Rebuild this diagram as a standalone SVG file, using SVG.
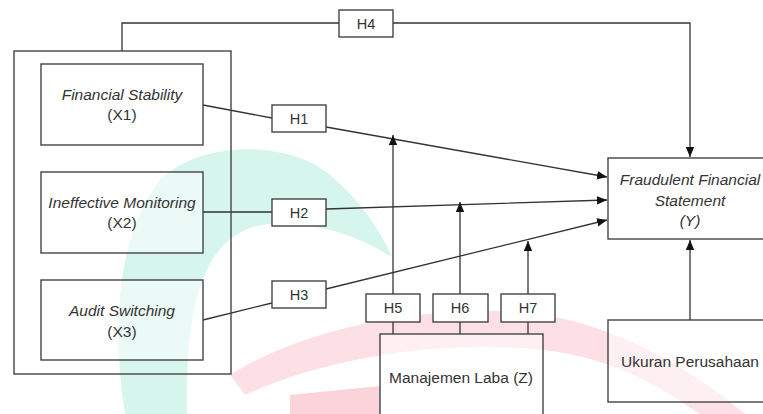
<svg xmlns="http://www.w3.org/2000/svg" width="763" height="414" viewBox="0 0 763 414">
<style>
.box{fill:#fff;fill-opacity:0.5;stroke:#444;stroke-width:1.4}
.lbl{fill:#fff;stroke:#444;stroke-width:1.4}
.con{fill:none;stroke:#333;stroke-width:1.3}
.t{font-family:"Liberation Sans",Arial,sans-serif;font-size:15.5px;fill:#333;text-anchor:middle}
.i{font-style:italic}
.h{font-size:14.5px}
</style>
<defs>
<marker id="ah" markerUnits="userSpaceOnUse" markerWidth="10" markerHeight="10" viewBox="0 0 10 10" refX="10" refY="5" orient="auto">
<path d="M0,0.8 L10,5 L0,9.2 Z" fill="#111"/>
</marker>
</defs>
<rect width="763" height="414" fill="#fff"/>

<g id="background">
<path d="M125,414 C110,320 120,230 160,180 C200,140 290,140 330,175 C360,200 380,230 392,257 C350,230 290,215 250,228 C205,245 185,300 187,414 Z" fill="#d6f5ec"/>
<path d="M230,375 C300,330 420,305 520,312 C600,318 680,360 745,414 L700,414 C640,372 590,352 520,348 C430,342 320,360 245,395 Z" fill="#fce0e5"/>
<path d="M290,395 L380,386 L380,414 L290,414 Z" fill="#fbd3da"/>
</g>

<g id="connectors">
<path class="con" d="M122,51 V23 H690 V157" marker-end="url(#ah)"/>
<path class="con" d="M203,105 L272,118 M326,127 L607,177" marker-end="url(#ah)"/>
<path class="con" d="M203,212 L272,212 M326,209 L607,200" marker-end="url(#ah)"/>
<path class="con" d="M203,320 L272,303 M326,289 L607,220" marker-end="url(#ah)"/>
<path class="con" d="M393,334 V135" marker-end="url(#ah)"/>
<path class="con" d="M460,334 V202" marker-end="url(#ah)"/>
<path class="con" d="M528,334 V241" marker-end="url(#ah)"/>
<path class="con" d="M690,320 V240" marker-end="url(#ah)"/>
</g>

<g id="independent-group"><rect class="box" x="14" y="51" width="217" height="323" style="fill:none"/></g>
<g id="x1"><rect class="box" x="41" y="64" width="162" height="81"/><text class="t i" x="122" y="100">Financial Stability</text><text class="t" x="122" y="120">(X1)</text></g>
<g id="x2"><rect class="box" x="41" y="172" width="162" height="81"/><text class="t i" x="122" y="208">Ineffective Monitoring</text><text class="t" x="122" y="228">(X2)</text></g>
<g id="x3"><rect class="box" x="41" y="280" width="162" height="80"/><text class="t i" x="122" y="316">Audit Switching</text><text class="t" x="122" y="337">(X3)</text></g>
<g id="y"><rect class="box" x="608" y="158" width="166" height="81"/><text class="t i" x="690" y="185">Fraudulent Financial</text><text class="t i" x="690" y="206">Statement</text><text class="t i" x="690" y="226">(Y)</text></g>
<g id="z"><rect class="box" x="380" y="334" width="163" height="100"/><text class="t" x="461" y="383">Manajemen Laba (Z)</text></g>
<g id="ukuran"><rect class="box" x="608" y="320" width="166" height="82"/><text class="t" x="690" y="367">Ukuran Perusahaan</text></g>
<g id="h1"><rect class="lbl" x="272" y="105" width="54" height="27"/><text class="t h" x="299" y="124">H1</text></g>
<g id="h2"><rect class="lbl" x="272" y="199" width="54" height="27"/><text class="t h" x="299" y="218">H2</text></g>
<g id="h3"><rect class="lbl" x="272" y="281" width="54" height="27"/><text class="t h" x="299" y="300">H3</text></g>
<g id="h4"><rect class="lbl" x="339" y="10" width="54" height="27"/><text class="t h" x="366" y="29">H4</text></g>
<g id="h5"><rect class="lbl" x="366" y="294" width="54" height="28"/><text class="t h" x="393" y="313">H5</text></g>
<g id="h6"><rect class="lbl" x="433" y="294" width="55" height="28"/><text class="t h" x="460" y="313">H6</text></g>
<g id="h7"><rect class="lbl" x="501" y="294" width="54" height="28"/><text class="t h" x="528" y="313">H7</text></g>
</svg>
